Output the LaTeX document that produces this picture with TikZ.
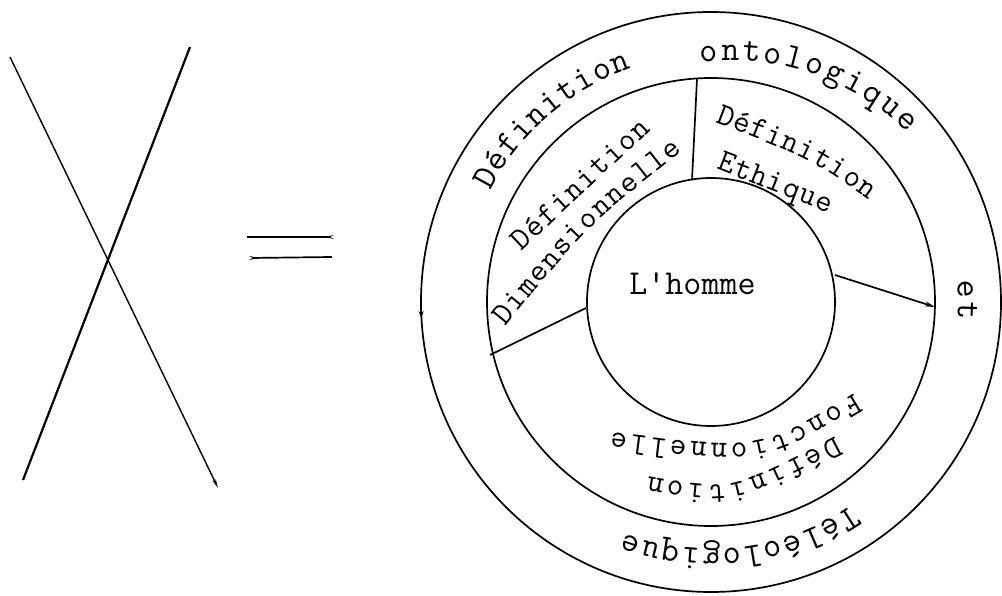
\documentclass[tikz,border=0pt]{standalone}
\usepackage{fontspec}
\usetikzlibrary{decorations.text,arrows.meta,calc}
\newcommand\twfont{\fontsize{35}{42}\selectfont\ttfamily}
\newcommand\twsmall{\fontsize{32}{38}\selectfont\ttfamily}
\begin{document}
\begin{tikzpicture}[x=1pt,y=1pt,
  ring/.style={draw, line width=1.7pt},
  link/.style={line width=1.7pt},
  smalltip/.style={-{Stealth[length=9pt,width=3.5pt]}},
  arctext/.style={decorate, decoration={text along path, text align={fit to path}, text={|\twfont|#1}}},
  midtext/.style={decorate, decoration={text along path, text align={fit to path}, text={|\twsmall|#1}}}
]
\fill[white] (0,0) rectangle (1002,595);
\useasboundingbox (0,0) rectangle (1002,595);

% ---- left: the crossing lines ----
\coordinate (a1) at (10,538);
\coordinate (a2) at (218,107);
\coordinate (b1) at (190,548);
\coordinate (b2) at (23,115);
\draw[link, line width=1.4pt, smalltip] (a1) -- (a2);
\draw[link, line width=2.2pt] (b1) -- (b2);

% ---- equals sign ----
\coordinate (e1) at (247,358);
\coordinate (e2) at (333,358);
\coordinate (e3) at (332,338);
\coordinate (e4) at (250,337);
\draw[link, -{Stealth[length=10pt,width=3pt]}] (e1) -- (e2);
\draw[link, -{Stealth[length=10pt,width=3pt]}] (e3) -- (e4);

% ---- circles ----
\coordinate (C) at (711,293);
\node[circle, ring, minimum size=580pt, inner sep=0pt] (outer) at (C) {};
\node[circle, ring, minimum size=448pt, inner sep=0pt] (middle) at (C) {};
\node[circle, ring, minimum size=248pt, inner sep=0pt] (inner) at (C) {};
\draw[line width=1.7pt, -{Stealth[length=7pt,width=5pt]}] ($(C)+(180:290pt)$) arc[start angle=180, end angle=183.2, radius=290pt];

% ---- dividers ----
\coordinate (t1) at (692,415);
\coordinate (t2) at (697,516);
\coordinate (l1) at (586,287);
\coordinate (l2) at (490,240);
\coordinate (r1) at (835,320);
\coordinate (r2) at (935,288);
\draw[link] (t1) -- (t2);
\draw[link] (l1) -- (l2);
\draw[link, -{Stealth[length=10pt,width=5pt]}] (r1) -- (r2);

% ---- centre ----
\node[font=\twfont, anchor=base] (homme) at (692.5,300) {L\textquotesingle homme};

% ---- outer ring text ----
\path[arctext={Définition}] ($(C)+(153.2:247pt)$) arc[start angle=153.2, end angle=108.8, radius=247pt];
\path[arctext={ontologique}] plot[domain=92.5:40.7, samples=40, variable=\t]
  ({711+(240+0.37*(92.5-\t))*cos(\t)}, {293+(240+0.37*(92.5-\t))*sin(\t)});
\path[arctext={et}] ($(C)+(5:247pt)$) arc[start angle=5, end angle=-4, radius=247pt];
\path[arctext={Téléologique}] ($(C)+(-55.3:247pt)$) arc[start angle=-55.3, end angle=-110.4, radius=247pt];

% ---- middle ring text ----
\path[midtext={Définition}] (521.2,343.4) -- (651.3,465.1);
\path[midtext={Dimensionnelle}] (505.6,268.2) .. controls (587.2,368.8) .. (682.8,443.4);
\path[midtext={Définition}] (715,472.7) .. controls (810.9,435.9) .. (868.8,395.1);
\path[midtext={Ethique}] (716,426.3) -- (829.2,381.9);
\path[midtext={Fonctionnelle}] (854.9,201.6) .. controls (758.75,143.75) .. (611.6,162.9);
\path[midtext={Définition}] (835.2,158.3) .. controls (730.2,103.6) .. (648.4,118.5);
\end{tikzpicture}
\end{document}
